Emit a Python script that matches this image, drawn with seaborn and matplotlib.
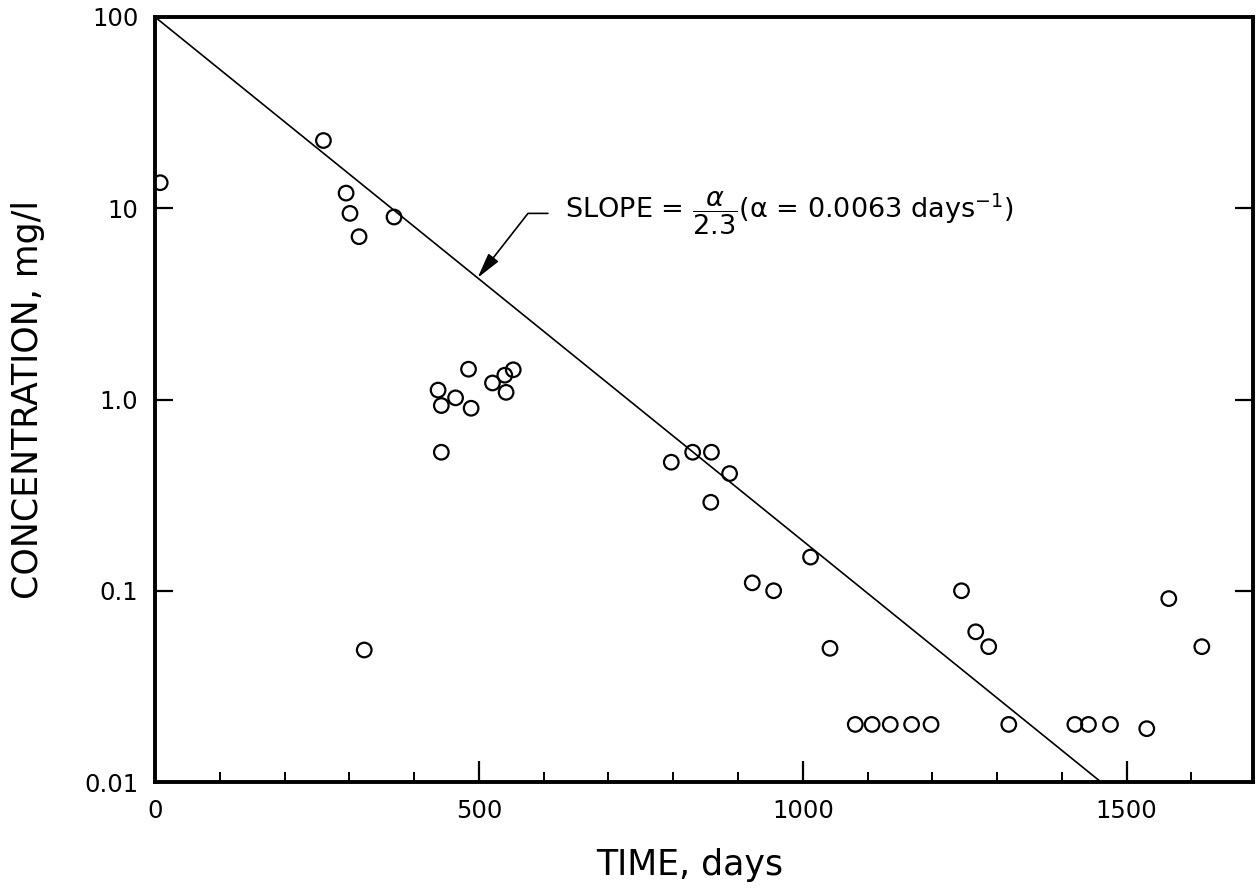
import numpy as np
import pandas as pd
import matplotlib
matplotlib.use("Agg")
import matplotlib.pyplot as plt
from matplotlib.ticker import MultipleLocator, NullLocator, FixedLocator, FixedFormatter
import seaborn as sns

# Observed concentrations
days = [8, 260, 295, 301, 315, 369, 323,
        437, 442, 442, 464, 484, 488, 521, 540, 542, 553,
        797, 830, 859, 858, 887, 922, 955,
        1012, 1042, 1081, 1107, 1135, 1168, 1198,
        1245, 1267, 1287, 1318, 1420, 1441, 1475, 1531, 1565, 1616]
conc = [13.6, 22.6, 12.0, 9.4, 7.1, 9.0, 0.049,
        1.12, 0.93, 0.53, 1.02, 1.44, 0.90, 1.22, 1.34, 1.09, 1.43,
        0.47, 0.53, 0.53, 0.29, 0.41, 0.11, 0.10,
        0.15, 0.05, 0.02, 0.02, 0.02, 0.02, 0.02,
        0.10, 0.061, 0.051, 0.02, 0.02, 0.02, 0.02, 0.019, 0.091, 0.051]

# Decay line: slope alpha/2.3 in log10 units, starting at 100 mg/l
alpha = 0.0063
c_start = 100.0
c_end = 0.01
t_end = np.log10(c_start / c_end) * 2.3 / alpha
fit_t = [0.0, t_end]
fit_c = [c_start * 10 ** (-alpha / 2.3 * t) for t in fit_t]

x_major = [0, 500, 1000, 1500]
x_labels = ["0", "500", "1000", "1500"]
y_major = [0.01, 0.1, 1.0, 10, 100]
y_labels = ["0.01", "0.1", "1.0", "10", "100"]

obs = pd.DataFrame({"days": days, "conc": conc})
fit = pd.DataFrame({"days": fit_t, "conc": fit_c})

sns.set_style("ticks")
plt.rcParams["font.family"] = ["DejaVu Sans"]
plt.rcParams["mathtext.fontset"] = "dejavusans"
for key in ["text.color", "axes.labelcolor", "xtick.color", "ytick.color"]:
    plt.rcParams[key] = "black"

fig = plt.figure(figsize=(12.58, 8.92), dpi=100)
ax = fig.add_axes([155 / 1258, 1 - 782 / 892, (1253 - 155) / 1258, (782 - 17) / 892])

sns.lineplot(data=fit, x="days", y="conc", ax=ax, color="black", lw=1.2)
sns.scatterplot(data=obs, x="days", y="conc", ax=ax, marker="o", s=110,
                facecolor="none", edgecolor="black", linewidth=1.6, zorder=3)

ax.set_yscale("log")
ax.set_xlim(0, 1695)
ax.set_ylim(0.01, 100)

ax.xaxis.set_major_locator(FixedLocator(x_major))
ax.xaxis.set_major_formatter(FixedFormatter(x_labels))
ax.xaxis.set_minor_locator(MultipleLocator(100))
ax.yaxis.set_major_locator(FixedLocator(y_major))
ax.yaxis.set_major_formatter(FixedFormatter(y_labels))
ax.yaxis.set_minor_locator(NullLocator())

ax.tick_params(axis="x", which="major", direction="in", length=15, width=1.6,
               labelsize=17.5, pad=12, top=False)
ax.tick_params(axis="x", which="minor", direction="in", length=7, width=1.4, top=False)
ax.tick_params(axis="y", which="major", direction="in", length=13, width=1.6,
               labelsize=17.5, pad=12, right=True, labelright=False)

for side in ["left", "bottom", "right", "top"]:
    ax.spines[side].set_visible(True)
    ax.spines[side].set_linewidth(2.8)
    ax.spines[side].set_color("black")

ax.set_xlabel("TIME, days", fontsize=25)
ax.set_ylabel("CONCENTRATION, mg/l", fontsize=25)
ax.xaxis.set_label_coords(0.487, -0.086)
ax.yaxis.set_label_coords(-0.1, 0.5)

# Slope annotation with bent leader
tip_t = 498
ax.annotate(r"SLOPE = $\dfrac{\alpha}{2.3}$(α = 0.0063 days$^{-1}$)",
            xy=(tip_t, c_start * 10 ** (-alpha / 2.3 * tip_t)),
            xytext=(633, 9.4), textcoords="data",
            ha="left", va="center", fontsize=19.5,
            arrowprops=dict(arrowstyle="-|>,head_length=0.8,head_width=0.2",
                            color="black", lw=1.2, shrinkA=10, shrinkB=0,
                            connectionstyle="angle,angleA=0,angleB=52,rad=0"))

fig.savefig("out.png", dpi=100)
